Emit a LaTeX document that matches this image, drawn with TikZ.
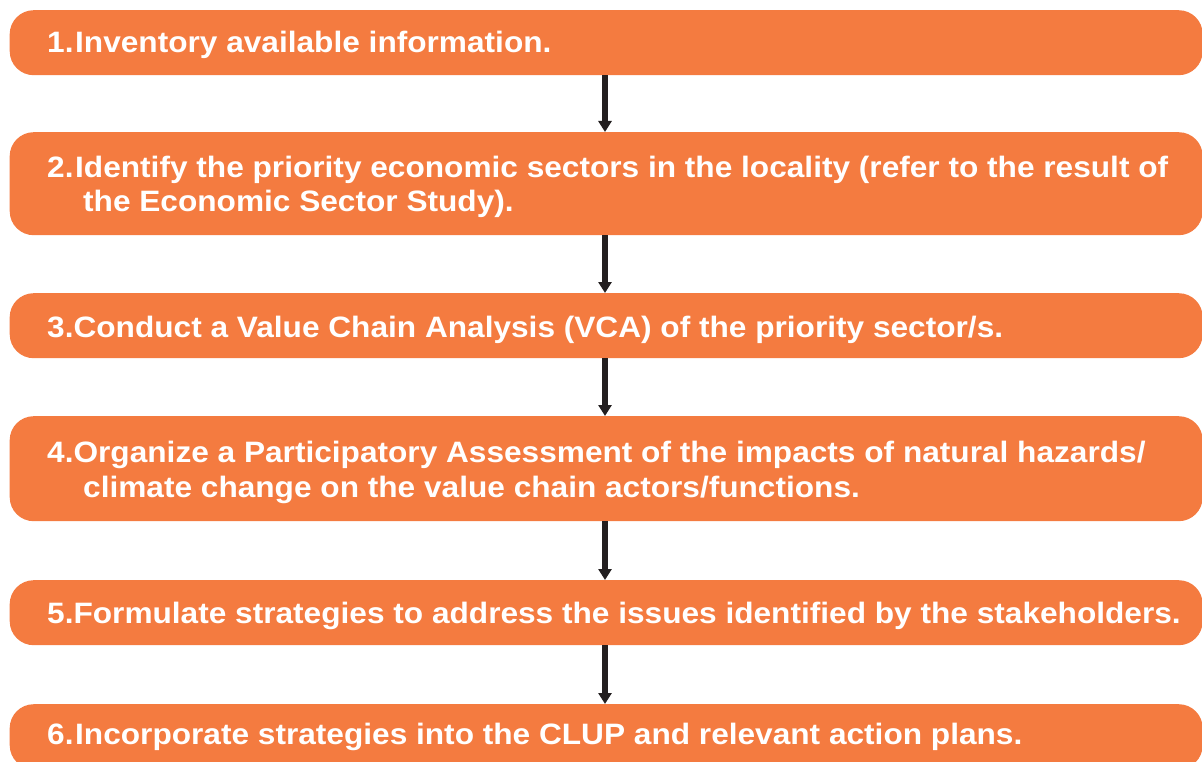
\documentclass[tikz,border=0pt]{standalone}
\usepackage{fontspec}
\setmainfont[FakeStretch=1.072]{Liberation Sans}
\usetikzlibrary{arrows.meta}
\definecolor{boxorange}{HTML}{F47B40}
\definecolor{arrowdark}{HTML}{231F20}
\tikzset{
  stepbox/.style={fill=boxorange, draw=none, rounded corners=24pt, minimum width=1193pt, inner sep=0pt, anchor=north west},
  steptext/.style={text=white, font=\fontsize{29.5}{35}\selectfont\bfseries, anchor=base west, inner sep=0pt, align=left},
  flow/.style={draw=arrowdark, line width=6.5pt, -{Triangle[width=13pt,length=11pt]}, shorten >=0pt}
}
\begin{document}
\begin{tikzpicture}[x=1pt,y=-1pt]
\useasboundingbox (0,0) rectangle (1202,762);
\node[stepbox, minimum height=65pt] (b1) at (9.5,10) {};
\node[stepbox, minimum height=103pt] (b2) at (9.5,132) {};
\node[stepbox, minimum height=65pt] (b3) at (9.5,293) {};
\node[stepbox, minimum height=105pt] (b4) at (9.5,416) {};
\node[stepbox, minimum height=65pt] (b5) at (9.5,580) {};
\node[stepbox, minimum height=65pt] (b6) at (9.5,704) {};
\node[steptext] (t1) at (47,53) {\makebox[28pt][l]{1.}Inventory available information.};
\node[steptext] (t2) at (47,212) {\makebox[28pt][l]{2.}Identify the priority economic sectors in the locality (refer to the result of\\\hspace*{36pt}the Economic Sector Study).};
\node[steptext] (t3) at (47,337) {3.Conduct a Value Chain Analysis (VCA) of the priority sector/s.};
\node[steptext] (t4) at (47,497) {4.Organize a Participatory Assessment of the impacts of natural hazards/\\\hspace*{36pt}climate change on the value chain actors/functions.};
\node[steptext] (t5) at (47,623) {5.Formulate strategies to address the issues identified by the stakeholders.};
\node[steptext] (t6) at (47,744) {\makebox[28pt][l]{6.}Incorporate strategies into the CLUP and relevant action plans.};
\foreach \a/\b in {b1/b2,b2/b3,b3/b4,b4/b5,b5/b6}{
  \draw[flow] (\a.south -| 605,0) -- (\b.north -| 605,0);
}
\end{tikzpicture}
\end{document}
